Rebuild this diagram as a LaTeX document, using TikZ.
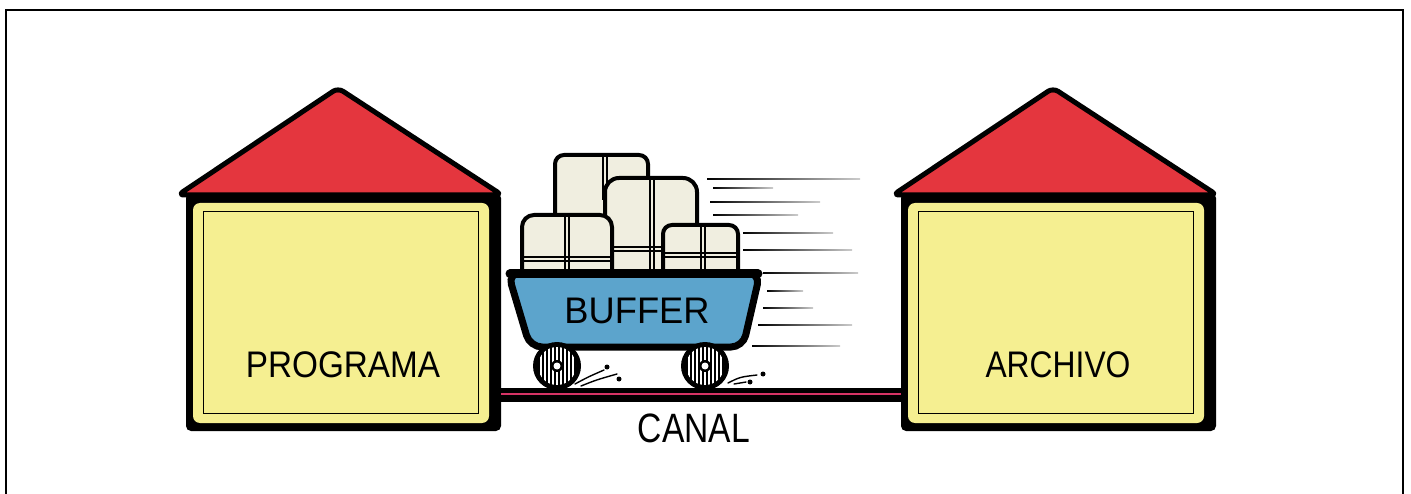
\documentclass[tikz,border=0pt]{standalone}
\usepackage{fontspec}
\newfontfamily\signfont{Liberation Sans}
\usetikzlibrary{positioning, calc}

\definecolor{roofred}{RGB}{228,54,62}
\definecolor{wallyellow}{RGB}{245,239,145}
\definecolor{cartblue}{RGB}{92,164,204}
\definecolor{boxcream}{RGB}{240,238,224}
\definecolor{railpink}{RGB}{214,52,102}

\tikzset{
    roof/.style={fill=roofred, draw=black, line width=5pt, rounded corners=6pt, line join=round},
    wall/.style={fill=black, rounded corners=5pt, minimum width=315pt, minimum height=238pt, inner sep=0pt},
    sign/.style={font=\signfont\fontsize{37}{37}\selectfont, inner sep=0pt},
    parcel/.style={fill=boxcream, draw=black, line width=4pt, rounded corners=9pt},
    strap/.style={line width=1.1pt},
    trail/.style={left color=black, right color=black!20},
    dust/.style={line width=1.4pt, line cap=round},
}

\begin{document}
\begin{tikzpicture}[x=1pt, y=-1pt]
    \useasboundingbox (0,0) rectangle (1411,494);
    % frame
    \draw[line width=1.2pt] (6,494) -- (6,10) -- (1403,10) -- (1403,494);

    % the two houses
    \foreach \dx/\wname/\wtext/\sx in {0/prog/PROGRAMA/0.9, 715/arch/ARCHIVO/0.86} {
        \begin{scope}[xshift=\dx]
            \node[wall] (\wname) at (343.5,312) {};
            \fill[wallyellow, rounded corners=7pt] (193,203) rectangle (489,423);
            \draw[line width=1pt] (203,212) rectangle (478,413);
            \draw[roof] (178,195) -- (338,88) -- (502,195) -- cycle;
            \node[sign] (\wname-label) at (343,365) {\scalebox{\sx}[1]{\wtext}};
        \end{scope}
    }

    % canal between them
    \coordinate (rail) at (0,395);
    \draw[line width=14pt] (prog.east |- rail) -- (arch.west |- rail);
    \draw[railpink, line width=2.5pt] ([yshift=1pt]prog.east |- rail) -- ([yshift=1pt]arch.west |- rail);
    \node[sign, font=\signfont\fontsize{41}{41}\selectfont] (canal) at (694,428) {\scalebox{0.82}[1]{CANAL}};

    % parcels, back to front
    \draw[parcel] (555,272) -- (555,155) -- (648,155) -- (648,272);
    \draw[strap] (603,157) -- (603,200) (607,157) -- (607,200);
    \draw[parcel, rounded corners=14pt] (605,272) -- (605,178) -- (697,178) -- (697,272);
    \draw[strap] (650,180) -- (650,270) (654,180) -- (654,270);
    \draw[strap] (608,247) -- (663,247) (608,251) -- (663,251);
    \draw[parcel, rounded corners=12pt] (522,272) -- (522,215) -- (612,215) -- (612,272);
    \draw[strap] (565,217) -- (565,270) (569,217) -- (569,270);
    \draw[strap] (524,257) -- (610,257) (524,261) -- (610,261);
    \draw[parcel] (663,272) -- (663,225) -- (738,225) -- (738,272);
    \draw[strap] (701,227) -- (701,270) (705,227) -- (705,270);
    \draw[strap] (665,253) -- (736,253) (665,257) -- (736,257);

    % cart
    \draw[fill=cartblue, line width=7pt, rounded corners=12pt]
        (508,273) -- (760,273) -- (743,347) -- (530,347) -- cycle;
    \draw[line width=9pt, line cap=round] (510,274) -- (758,274);
    \node[sign] (buffer) at (637,311) {\scalebox{0.98}[1]{BUFFER}};

    % wheels
    \foreach \wx/\wn in {557/rear, 705/front} {
        \fill (\wx,366) circle[radius=24pt];
        \begin{scope}
            \clip (\wx,366) circle[radius=19pt];
            \foreach \k in {-20,-16,...,20}
                \draw[white, line width=1.2pt] (\wx+\k,340) -- (\wx+\k,392);
        \end{scope}
        \fill (\wx,366) circle[radius=6pt];
        \fill[white] (\wx,366) circle[radius=3.5pt];
        \coordinate (\wn-hub) at (\wx,366);
    }

    % dust behind the wheels
    \draw[dust] (575,384) .. controls (588,377) .. (604,370);
    \draw[dust] (581,386) .. controls (596,380) .. (617,374);
    \fill (607,367) circle[radius=2.5pt] (619,379) circle[radius=2.5pt];
    \draw[dust] (728,383) .. controls (740,377) .. (757,375);
    \draw[dust] (734,384) -- (746,382);
    \fill (763,374) circle[radius=2.5pt] (750,382) circle[radius=2.5pt];

    % speed trails
    \foreach \ty/\ta/\tb in {179/707/860, 188/713/773, 202/710/820, 215/713/798,
        233/743/833, 250/743/852, 273/763/858, 291/767/803, 308/763/813,
        325/758/852, 346/752/840}
        \shade[trail] (\ta,\ty-0.9) rectangle (\tb,\ty+0.9);
\end{tikzpicture}
\end{document}
